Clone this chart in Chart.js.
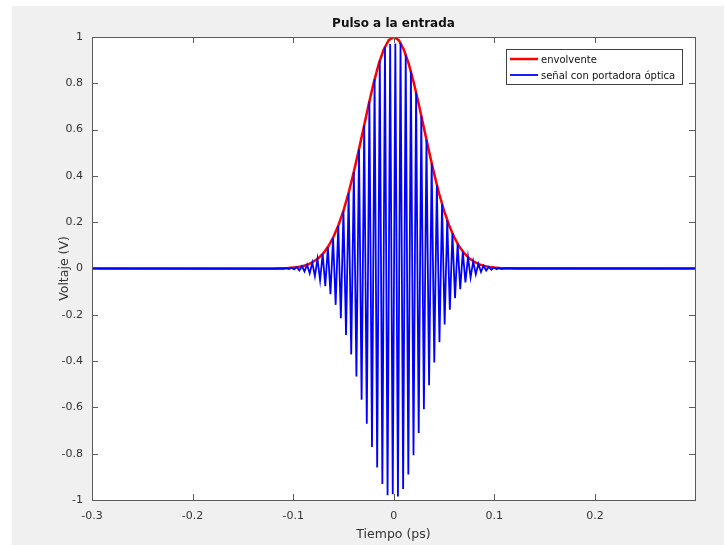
<!DOCTYPE html>
<html>
<head>
<meta charset="utf-8">
<title>Pulso a la entrada</title>
<script src="https://cdn.jsdelivr.net/npm/chart.js@4.4.0/dist/chart.umd.min.js"></script>
<style>
	html, body { margin: 0; padding: 0; background: #fff; }
	#plot { position: absolute; left: 12px; top: 6px; background: #f0f0f0; }
</style>
</head>
<body>
<canvas id="plot" width="712" height="539"></canvas>
<script>
	// Gaussian envelope (ps, V)
	const envTime = [-0.3, -0.125, -0.12, -0.115, -0.11, -0.105, -0.1, -0.095, -0.09, -0.085, -0.08, -0.075, -0.07, -0.065, -0.06, -0.055, -0.05, -0.045, -0.04, -0.035, -0.03, -0.025, -0.02, -0.015, -0.01, -0.005,
		0, 0.005, 0.01, 0.015, 0.02, 0.025, 0.03, 0.035, 0.04, 0.045, 0.05, 0.055, 0.06, 0.065, 0.07, 0.075, 0.08, 0.085, 0.09, 0.095, 0.1, 0.105, 0.11, 0.115, 0.12, 0.125, 0.3];
	const envVolt = [0, 0, 0, 0.001, 0.001, 0.002, 0.004, 0.007, 0.011, 0.018, 0.029, 0.044, 0.066, 0.096, 0.136, 0.187, 0.25, 0.325, 0.412, 0.507, 0.607, 0.707, 0.801, 0.883, 0.946, 0.986,
		1, 0.986, 0.946, 0.883, 0.801, 0.707, 0.607, 0.507, 0.412, 0.325, 0.25, 0.187, 0.136, 0.096, 0.066, 0.044, 0.029, 0.018, 0.011, 0.007, 0.004, 0.002, 0.001, 0.001, 0, 0, 0];

	// carrier extremes (ps, V)
	const sigTime = [-0.3, -0.10936, -0.10678, -0.1042, -0.10162, -0.09904, -0.09646, -0.09388, -0.0913, -0.08872, -0.08614, -0.08356, -0.08098, -0.0784, -0.07582, -0.07324, -0.07066, -0.06808, -0.0655, -0.06292, -0.06034,
		-0.05776, -0.05518, -0.0526, -0.05002, -0.04744, -0.04486, -0.04228, -0.0397, -0.03712, -0.03454, -0.03196, -0.02938, -0.0268, -0.02422, -0.02164, -0.01906, -0.01648, -0.0139, -0.01132, -0.00874, -0.00616, -0.00358,
		-0.001, 0.00158, 0.00416, 0.00674, 0.00932, 0.0119, 0.01448, 0.01706, 0.01964, 0.02222, 0.0248, 0.02738, 0.02996, 0.03254, 0.03512, 0.0377, 0.04028, 0.04286, 0.04544, 0.04802, 0.0506, 0.05318, 0.05576, 0.05834,
		0.06092, 0.0635, 0.06608, 0.06866, 0.07124, 0.07382, 0.0764, 0.07898, 0.08156, 0.08414, 0.08672, 0.0893, 0.09188, 0.09446, 0.09704, 0.09962, 0.1022, 0.10478, 0.10736, 0.10994, 0.3];
	const sigVolt = [0, -0.001, 0.002, -0.002, 0.003, -0.004, 0.006, -0.008, 0.01, -0.013, 0.016, -0.021, 0.026, -0.033, 0.041, -0.051, 0.063, -0.076, 0.092, -0.111, 0.132,
		-0.157, 0.185, -0.215, 0.249, -0.287, 0.327, -0.371, 0.417, -0.466, 0.516, -0.567, 0.619, -0.671, 0.722, -0.771, 0.817, -0.86, 0.898, -0.931, 0.958, -0.979, 0.97,
		-0.975, 0.972, -0.985, 0.975, -0.953, 0.924, -0.89, 0.851, -0.807, 0.76, -0.711, 0.66, -0.608, 0.556, -0.504, 0.454, -0.406, 0.361, -0.318, 0.278, -0.242, 0.208, -0.178, 0.151,
		-0.128, 0.107, -0.089, 0.073, -0.06, 0.049, -0.039, 0.031, -0.025, 0.02, -0.015, 0.012, -0.009, 0.007, -0.005, 0.004, -0.003, 0.002, -0.002, 0.001, 0];

	const xTicks = [-0.3, -0.2, -0.1, 0, 0.1, 0.2];
	const xTickLabels = ['-0.3', '-0.2', '-0.1', '0', '0.1', '0.2'];
	const yTicks = [-1, -0.8, -0.6, -0.4, -0.2, 0, 0.2, 0.4, 0.6, 0.8, 1];
	const yTickLabels = ['-1', '-0.8', '-0.6', '-0.4', '-0.2', '0', '0.2', '0.4', '0.6', '0.8', '1'];

	const textColor = '#333333';
	const axisColor = '#5a5a5a';
	const fontFamily = '"DejaVu Sans", sans-serif';

	const toPoints = (xs, ys) => xs.map((x, i) => ({ x: x, y: ys[i] }));

	// white axes box, inward ticks on all four sides, title and legend
	const matlabAxes = {
		id: 'matlabAxes',
		beforeDatasetsDraw(chart) {
			const { ctx, chartArea: a } = chart;
			ctx.save();
			ctx.fillStyle = '#fff';
			ctx.fillRect(a.left, a.top, a.right - a.left, a.bottom - a.top);
			ctx.restore();
		},
		afterDraw(chart) {
			const { ctx, chartArea: a, scales } = chart;
			const len = 6;
			ctx.save();
			ctx.strokeStyle = axisColor;
			ctx.lineWidth = 1;
			ctx.beginPath();
			scales.x.ticks.forEach((t) => {
				const px = Math.round(scales.x.getPixelForValue(t.value)) + 0.5;
				ctx.moveTo(px, a.bottom); ctx.lineTo(px, a.bottom - len);
				ctx.moveTo(px, a.top); ctx.lineTo(px, a.top + len);
			});
			scales.y.ticks.forEach((t) => {
				const py = Math.round(scales.y.getPixelForValue(t.value)) + 0.5;
				ctx.moveTo(a.left, py); ctx.lineTo(a.left + len, py);
				ctx.moveTo(a.right, py); ctx.lineTo(a.right - len, py);
			});
			ctx.stroke();
			ctx.strokeRect(Math.round(a.left) + 0.5, Math.round(a.top) + 0.5, Math.round(a.right - a.left), Math.round(a.bottom - a.top));

			// title
			ctx.fillStyle = '#111';
			ctx.font = 'bold 12px ' + fontFamily;
			ctx.textAlign = 'center';
			ctx.textBaseline = 'middle';
			ctx.fillText('Pulso a la entrada', (a.left + a.right) / 2, a.top - 13);

			// legend box in the upper right corner
			const entries = [chart.data.datasets[1], chart.data.datasets[0]];
			const bx = a.right - 189, by = a.top + 12, bw = 176, bh = 35;
			ctx.fillStyle = '#fff';
			ctx.fillRect(bx, by, bw, bh);
			ctx.strokeStyle = '#404040';
			ctx.strokeRect(bx + 0.5, by + 0.5, bw, bh);
			ctx.font = '10px ' + fontFamily;
			ctx.textAlign = 'left';
			entries.forEach((ds, i) => {
				const y = by + 10 + i * 16;
				ctx.strokeStyle = ds.borderColor;
				ctx.lineWidth = ds.borderWidth;
				ctx.beginPath();
				ctx.moveTo(bx + 4, y); ctx.lineTo(bx + 32, y);
				ctx.stroke();
				ctx.fillStyle = '#111';
				ctx.fillText(ds.label, bx + 35, y + 1);
			});
			ctx.restore();
		}
	};

	new Chart(document.getElementById('plot'), {
		type: 'line',
		data: {
			datasets: [
				{
					label: 'señal con portadora óptica',
					data: toPoints(sigTime, sigVolt),
					borderColor: '#0000ff',
					borderWidth: 1.8,
					pointRadius: 0,
					tension: 0,
				},
				{
					label: 'envolvente',
					data: toPoints(envTime, envVolt),
					borderColor: '#ff0000',
					borderWidth: 2.5,
					pointRadius: 0,
					tension: 0,
				},
			],
		},
		options: {
			responsive: false,
			animation: false,
			devicePixelRatio: 1,
			layout: { padding: { top: 31, right: 29, left: 0, bottom: 0 } },
			plugins: {
				legend: { display: false },
				tooltip: { enabled: false },
			},
			scales: {
				x: {
					type: 'linear',
					min: -0.3,
					max: 0.2995,
					grid: { display: false, drawTicks: false },
					border: { display: false },
					afterBuildTicks: (s) => { s.ticks = xTicks.map((v) => ({ value: v })); },
					afterFit: (s) => { s.height = 45; },
					ticks: {
						padding: 10,
						maxRotation: 0,
						autoSkip: false,
						color: textColor,
						font: { family: fontFamily, size: 11 },
						callback: (v, i) => xTickLabels[i],
					},
					title: {
						display: true,
						text: 'Tiempo (ps)',
						color: textColor,
						font: { family: fontFamily, size: 12.5 },
						padding: { top: 0, bottom: 3 },
					},
				},
				y: {
					min: -1,
					max: 1,
					grid: { display: false, drawTicks: false },
					border: { display: false },
					afterBuildTicks: (s) => { s.ticks = yTicks.map((v) => ({ value: v })); },
					afterFit: (s) => { s.width = 80; },
					ticks: {
						padding: 9,
						autoSkip: false,
						color: textColor,
						font: { family: fontFamily, size: 11 },
						callback: (v, i) => yTickLabels[i],
					},
					title: {
						display: true,
						text: 'Voltaje (V)',
						color: textColor,
						font: { family: fontFamily, size: 12.5 },
						padding: { top: 45, bottom: 0 },
					},
				},
			},
		},
		plugins: [matlabAxes],
	});
</script>
</body>
</html>
